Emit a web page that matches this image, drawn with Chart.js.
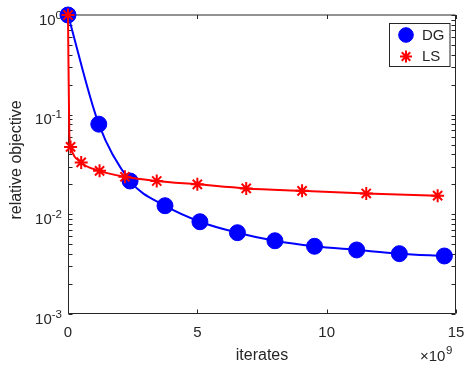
<!DOCTYPE html>
<html>
<head>
<meta charset="utf-8">
<title>relative objective vs iterates</title>
<script src="https://cdn.jsdelivr.net/npm/chart.js@4.4.1/dist/chart.umd.min.js"></script>
<style>
  html, body { margin: 0; padding: 0; background: #fff; }
  canvas { display: block; }
</style>
</head>
<body>
<canvas id="chart" width="465" height="365"></canvas>
<script>
// DG and LS runs: relative objective against iterate count (x in units of 1e9).
const dgIter = [0, 1.19, 2.40, 3.75, 5.10, 6.55, 8.00, 9.53, 11.16, 12.81, 14.55];
const dgObj = [1, 0.0803, 0.0216, 0.0122, 0.00843, 0.00654, 0.00543, 0.00478, 0.00439, 0.00403, 0.00382];

// LS has an extra unmarked sample where the curve turns off the vertical drop.
const lsIter = [0, 0.05, 0.10, 0.51, 1.22, 2.20, 3.43, 5.00, 6.89, 9.05, 11.53, 14.29];
const lsObj = [1, 0.065, 0.0475, 0.0332, 0.0273, 0.0238, 0.0216, 0.0200, 0.0182, 0.0172, 0.0162, 0.0154];
const lsMarked = [true, false, true, true, true, true, true, true, true, true, true, true];

const xTicks = [0, 5, 10, 15];
const xTickLabels = ["0", "5", "10", "15"];
const yTicks = [1e-3, 1e-2, 1e-1, 1];
const yTickExps = ["-3", "-2", "-1", "0"];
const xExponent = "9";

const seriesNames = ["DG", "LS"];
const BLUE = "#0000ff";
const RED = "#ff0000";
const INK = "#262626";
const FAMILY = '"Liberation Sans", Arial, Helvetica, sans-serif';
const TICK_PX = 15;
const EXP_PX = 11.5;
const LABEL_PX = 16;
const LEGEND_PX = 15;
const TICK_LEN = 4;

// minor ticks at 2..9 within every decade of the log axis
const yMinor = [];
for (let d = 0; d < yTicks.length - 1; d++) {
  for (let m = 2; m <= 9; m++) yMinor.push(yTicks[d] * m);
}

function drawPower(ctx, xRight, baseY, exp) {
  ctx.font = `${EXP_PX}px ${FAMILY}`;
  const expW = ctx.measureText(exp).width;
  ctx.textAlign = "right";
  ctx.textBaseline = "alphabetic";
  ctx.fillText(exp, xRight, baseY - 6);
  ctx.font = `${TICK_PX}px ${FAMILY}`;
  ctx.fillText("10", xRight - expW, baseY);
}

// box, inward ticks and labels in the MATLAB style
const axesFrame = {
  id: "axesFrame",
  beforeDatasetsDraw(chart) {
    const { ctx, chartArea: a, scales } = chart;
    const L = Math.round(a.left) + 0.5, R = Math.round(a.right) - 0.5;
    const T = Math.round(a.top), B = Math.round(a.bottom) - 0.5;
    ctx.save();
    ctx.lineWidth = 1;
    ctx.strokeStyle = INK;
    ctx.beginPath();
    ctx.moveTo(L, T); ctx.lineTo(R, T); ctx.lineTo(R, B); ctx.lineTo(L, B); ctx.closePath();
    ctx.stroke();

    ctx.beginPath();
    for (const v of yTicks.concat(yMinor)) {
      const y = Math.round(scales.y.getPixelForValue(v)) + 0.5;
      ctx.moveTo(L, y); ctx.lineTo(L + TICK_LEN, y);
      ctx.moveTo(R, y); ctx.lineTo(R - TICK_LEN, y);
    }
    for (const v of xTicks) {
      const x = Math.round(scales.x.getPixelForValue(v)) + 0.5;
      ctx.moveTo(x, B); ctx.lineTo(x, B - TICK_LEN);
      ctx.moveTo(x, T); ctx.lineTo(x, T + TICK_LEN);
    }
    ctx.stroke();

    ctx.fillStyle = INK;
    ctx.font = `${TICK_PX}px ${FAMILY}`;
    ctx.textAlign = "center";
    ctx.textBaseline = "alphabetic";
    xTicks.forEach((v, i) => {
      ctx.fillText(xTickLabels[i], scales.x.getPixelForValue(v), a.bottom + 23);
    });
    yTicks.forEach((v, i) => {
      drawPower(ctx, a.left - 6, scales.y.getPixelForValue(v) + 9.5, yTickExps[i]);
    });

    // x exponent multiplier
    ctx.textAlign = "left";
    ctx.font = `${TICK_PX}px ${FAMILY}`;
    const tx = 420;
    ctx.fillText("\u00d710", tx, 361);
    const w = ctx.measureText("\u00d710").width;
    ctx.font = `${EXP_PX}px ${FAMILY}`;
    ctx.fillText(xExponent, tx + w + 0.5, 354);

    // axis titles
    ctx.font = `${LABEL_PX}px ${FAMILY}`;
    ctx.textAlign = "center";
    ctx.fillText("iterates", (a.left + a.right) / 2, 360);
    ctx.translate(17, 160);
    ctx.rotate(-Math.PI / 2);
    ctx.textBaseline = "middle";
    ctx.fillText("relative objective", 0, 0);
    ctx.restore();
  },
  afterDatasetsDraw(chart) {
    const { ctx } = chart;
    ctx.save();
    ctx.fillStyle = "#fff";
    ctx.fillRect(389.5, 23.5, 60.5, 43);
    ctx.strokeStyle = INK;
    ctx.lineWidth = 1;
    ctx.strokeRect(389.5, 23.5, 60.5, 43);
    chart.data.datasets.forEach((ds, i) => {
      const y = i === 0 ? 35 : 56.5;
      ctx.fillStyle = ds.pointBackgroundColor;
      ctx.strokeStyle = ds.pointBorderColor;
      ctx.lineWidth = ds.pointBorderWidth;
      Chart.helpers.drawPoint(ctx, {
        pointStyle: ds.pointStyle,
        radius: i === 0 ? 7.3 : 6,
        rotation: 0,
        borderWidth: ds.pointBorderWidth,
      }, 406, y);
      ctx.fillStyle = INK;
      ctx.font = `${LEGEND_PX}px ${FAMILY}`;
      ctx.textAlign = "left";
      ctx.textBaseline = "middle";
      ctx.fillText(seriesNames[i], 422, y + 0.5);
    });
    ctx.restore();
  },
};

new Chart(document.getElementById("chart"), {
  type: "line",
  data: {
    datasets: [
      {
        label: seriesNames[0],
        data: dgIter.map((x, i) => ({ x, y: dgObj[i] })),
        borderColor: BLUE,
        borderWidth: 2,
        pointStyle: "circle",
        pointRadius: 8,
        pointBackgroundColor: BLUE,
        pointBorderColor: BLUE,
        pointBorderWidth: 1,
        cubicInterpolationMode: "monotone",
        clip: false,
        order: 1,
      },
      {
        label: seriesNames[1],
        data: lsIter.map((x, i) => ({ x, y: lsObj[i] })),
        borderColor: RED,
        borderWidth: 2,
        pointStyle: "star",
        pointRadius: lsMarked.map((m) => (m ? 6.5 : 0)),
        pointBackgroundColor: RED,
        pointBorderColor: RED,
        pointBorderWidth: 2,
        cubicInterpolationMode: "monotone",
        clip: false,
        order: 0,
      },
    ],
  },
  options: {
    responsive: false,
    animation: false,
    events: [],
    layout: { padding: { left: 68, top: 15, right: 6, bottom: 51 } },
    plugins: { legend: { display: false }, tooltip: { enabled: false } },
    scales: {
      x: { type: "linear", display: false, min: 0, max: 15 },
      y: { type: "logarithmic", display: false, min: 1e-3, max: 1 },
    },
  },
  plugins: [axesFrame],
});
</script>
</body>
</html>
